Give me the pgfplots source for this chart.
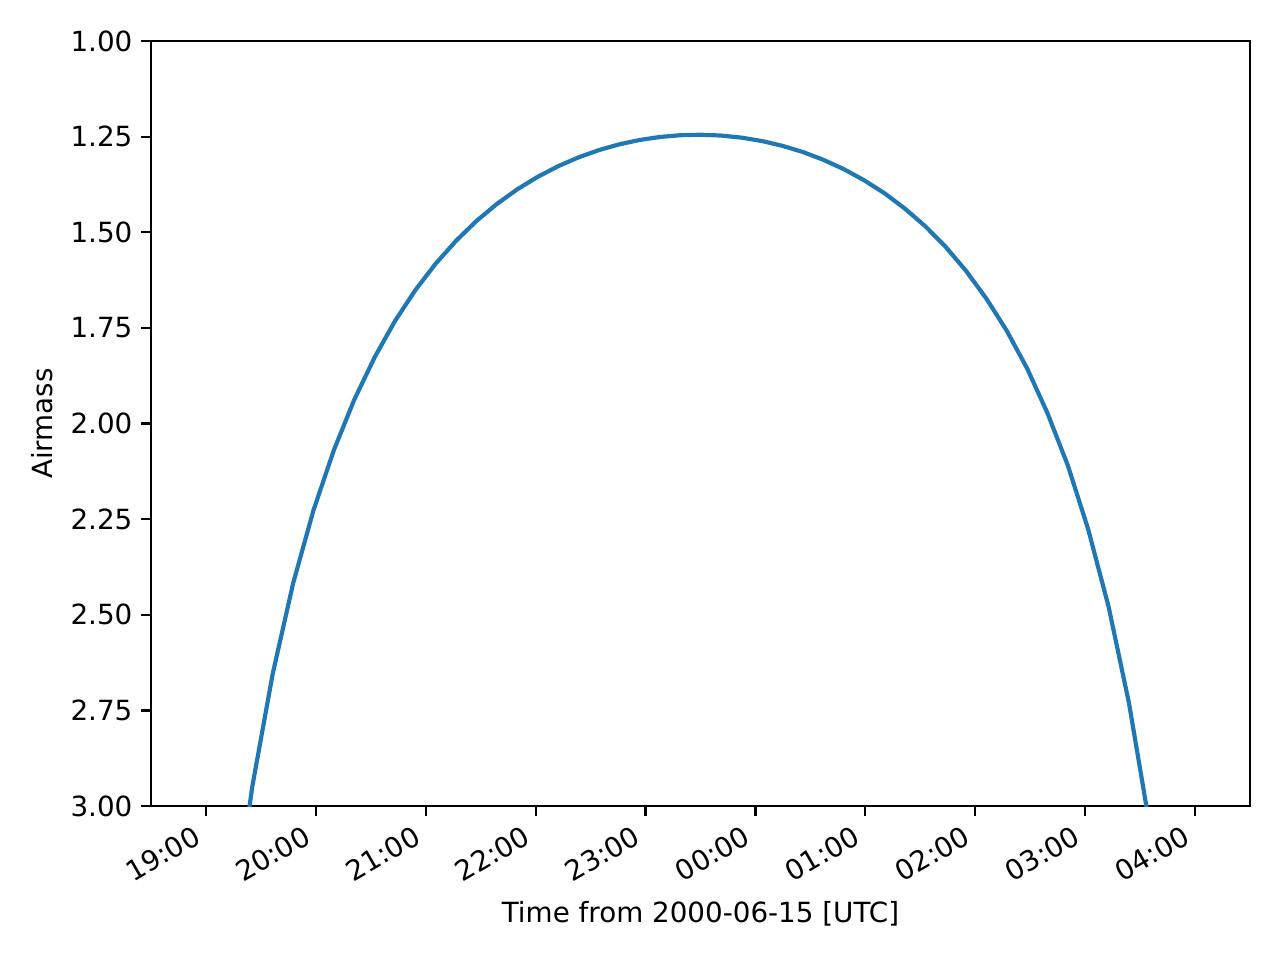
\documentclass[border=0pt]{standalone}
\usepackage{fontspec}
\setmainfont{DejaVu Sans}
\usepackage{pgfplots}
\pgfplotsset{compat=1.18}
\definecolor{mplblue}{HTML}{1F77B4}
\begin{document}
\begin{tikzpicture}
\useasboundingbox (-54.36pt,-55.44pt) rectangle (406.4pt,290.16pt);
\begin{axis}[
  at={(0,0)}, anchor=south west,
  scale only axis,
  width=395.6pt, height=275.4pt,
  xmin=18.5, xmax=28.5,
  ymin=1, ymax=3,
  y dir=reverse,
  axis line style={line width=0.8pt},
  every tick/.style={black, line width=0.8pt},
  tick align=outside,
  xtick pos=bottom, ytick pos=left,
  major tick length=3.5pt,
  xtick={19,20,21,22,23,24,25,26,27,28},
  xticklabels={19:00,20:00,21:00,22:00,23:00,00:00,01:00,02:00,03:00,04:00},
  ytick={1,1.25,1.5,1.75,2,2.25,2.5,2.75,3},
  yticklabel style={/pgf/number format/fixed, /pgf/number format/fixed zerofill, /pgf/number format/precision=2},
  /pgf/number format/assume math mode=true,
  xticklabel style={xshift=-4.5pt, yshift=-1.5pt, rotate=30, anchor=north east, inner sep=1pt},
  yticklabel style={inner sep=1pt, xshift=-2pt},
  tick label style={font=\fontsize{10}{12}\selectfont},
  label style={font=\fontsize{10}{12}\selectfont},
  xlabel={Time from 2000-06-15 [UTC]},
  ylabel={Airmass},
  xlabel style={at={(axis description cs:0.5,0)}, anchor=center, yshift=-38.9pt},
  ylabel style={at={(axis description cs:-0.0991,0.5)}, anchor=center},
  clip=true,
]
\addplot[mplblue, line width=1.5pt, line join=round] coordinates {
(19.236,3.333) (19.421,2.950) (19.607,2.6547) (19.793,2.4179) (19.978,2.2270)
(20.164,2.0695) (20.349,1.9379) (20.535,1.8267) (20.720,1.7320) (20.906,1.6509)
(21.091,1.5818) (21.277,1.5219) (21.462,1.4703) (21.648,1.4258) (21.833,1.3876)
(22.019,1.3550) (22.204,1.3273) (22.390,1.3042) (22.575,1.2852) (22.761,1.2701)
(22.947,1.2587) (23.132,1.2508) (23.318,1.2462) (23.503,1.2450) (23.689,1.2472)
(23.874,1.2526) (24.060,1.2615) (24.245,1.2740) (24.431,1.2901) (24.616,1.3103)
(24.802,1.3347) (24.987,1.3637) (25.173,1.3978) (25.358,1.4377) (25.544,1.4840)
(25.730,1.5379) (25.915,1.6005) (26.101,1.6734) (26.286,1.7571) (26.472,1.8558)
(26.657,1.9727) (26.843,2.1100) (27.028,2.2768) (27.214,2.4796) (27.399,2.7311)
(27.585,3.0476) (27.770,3.462)
};
\end{axis}
\end{tikzpicture}
\end{document}
